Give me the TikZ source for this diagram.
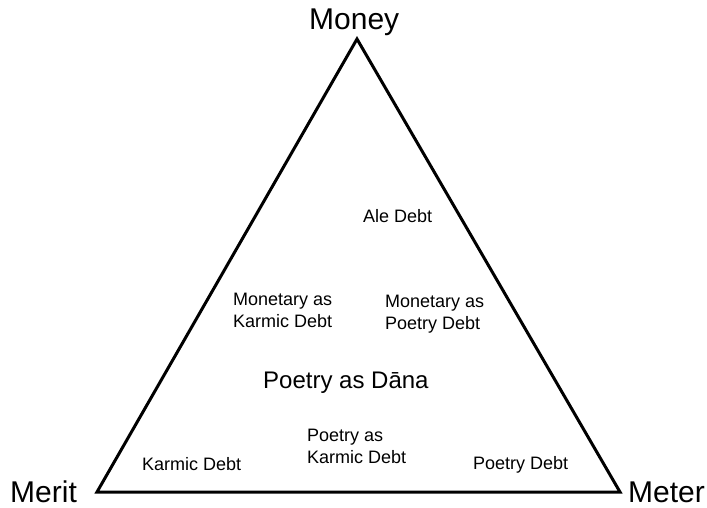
\documentclass[tikz,border=0pt]{standalone}
\usepackage{fontspec}
\setmainfont{Liberation Sans}
\tikzset{
	vertexlabel/.style={inner sep=0pt,anchor=base west,font=\fontsize{30}{36}\selectfont},
	debtlabel/.style={inner sep=0pt,anchor=base west,align=left,font=\fontsize{18}{22}\selectfont},
}

\begin{document}
\begin{tikzpicture}[x=1pt,y=-1pt]
	\useasboundingbox (0,0) rectangle (707,507);
	\coordinate (money) at (357,39);
	\coordinate (merit) at (97,492);
	\coordinate (meter) at (620,492);
	\draw [line width=3pt,line join=miter] (money) -- (merit) -- (meter) -- cycle;
	% corners
	\node [vertexlabel] (moneylabel) at (309,29) {Money};
	\node [vertexlabel] (meritlabel) at (10,502) {Merit};
	\node [vertexlabel] (meterlabel) at (628,502) {Meter};
	% inside (multi-line nodes sit on their last line)
	\node [debtlabel] (ale) at (363,222) {Ale Debt};
	\node [debtlabel] (monkarmic) at (233,327) {Monetary as\\Karmic Debt};
	\node [debtlabel] (monpoetry) at (385,329) {Monetary as\\Poetry Debt};
	\node [debtlabel,font=\fontsize{24}{28}\selectfont] (dana) at (263,388) {Poetry as D\=ana};
	\node [debtlabel] (karmic) at (142,470) {Karmic Debt};
	\node [debtlabel] (poetkarmic) at (307,463) {Poetry as\\Karmic Debt};
	\node [debtlabel] (poetry) at (473,469) {Poetry Debt};
\end{tikzpicture}
\end{document}
